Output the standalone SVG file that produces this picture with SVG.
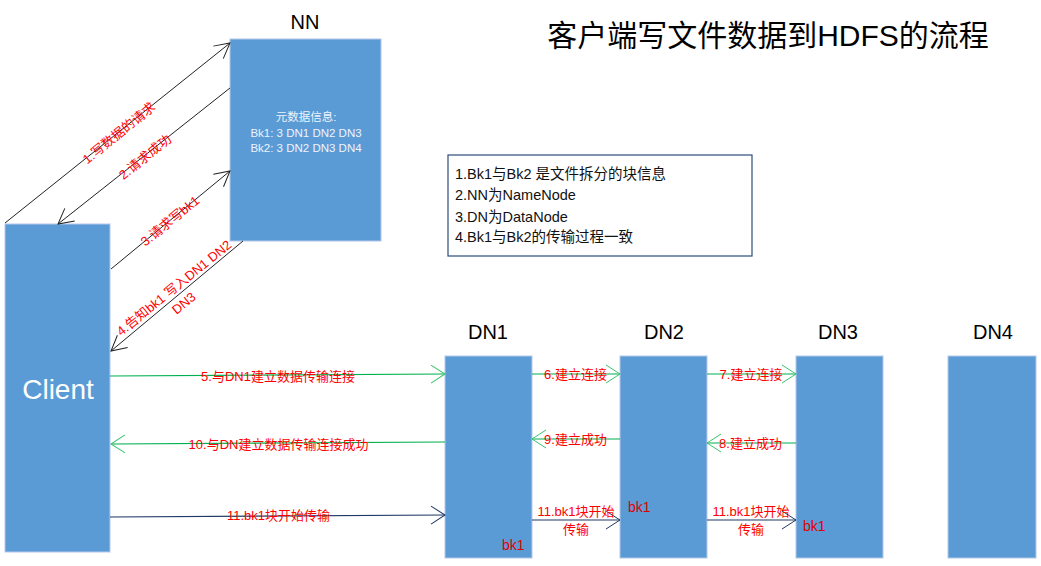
<svg xmlns="http://www.w3.org/2000/svg" width="1041" height="566" viewBox="0 0 1041 566">
<style>
.box{fill:#5b9bd5;stroke:#b4c7e7;stroke-width:1}
.hdr{font-family:"Liberation Sans","Noto Sans CJK SC",sans-serif;font-size:20px;fill:#000;text-anchor:middle}
.lbl{font-family:"Liberation Sans","Noto Sans CJK SC",sans-serif;font-size:13px;fill:#ff0000;text-anchor:middle}
.bk{font-family:"Liberation Sans","Noto Sans CJK SC",sans-serif;font-size:14px;fill:#e00000}
.meta{font-family:"Liberation Sans","Noto Sans CJK SC",sans-serif;font-size:11.5px;fill:#eef3fa;text-anchor:middle}
.note{font-family:"Liberation Sans","Noto Sans CJK SC",sans-serif;font-size:14.5px;fill:#111}
.blk{stroke:#222;stroke-width:1;fill:none;marker-end:url(#ab)}
.grn{stroke:#00b050;stroke-width:1.2;fill:none;marker-end:url(#ag)}
.nav{stroke:#1f3864;stroke-width:1.2;fill:none;marker-end:url(#an)}
</style>
<defs>
<marker id="ab" markerUnits="userSpaceOnUse" markerWidth="20" markerHeight="20" viewBox="-16 -10 20 20" refX="0" refY="0" orient="auto"><path d="M-15,-8 L0,0 L-15,8" fill="none" stroke="#222" stroke-width="1"/></marker>
<marker id="ag" markerUnits="userSpaceOnUse" markerWidth="20" markerHeight="20" viewBox="-16 -10 20 20" refX="0" refY="0" orient="auto"><path d="M-14,-9 L0,0 L-14,9" fill="none" stroke="#3cc36a" stroke-width="1"/></marker>
<marker id="an" markerUnits="userSpaceOnUse" markerWidth="20" markerHeight="20" viewBox="-16 -10 20 20" refX="0" refY="0" orient="auto"><path d="M-14,-9 L0,0 L-14,9" fill="none" stroke="#1f3864" stroke-width="1"/></marker>
</defs>
<rect width="1041" height="566" fill="#fff"/>
<text x="768" y="46" font-family="Liberation Sans,Noto Sans CJK SC,sans-serif" font-size="30" text-anchor="middle" fill="#000">客户端写文件数据到HDFS的流程</text>

<g id="NN">
<rect class="box" x="230" y="39" width="151" height="202"/>
<text class="hdr" x="305" y="29">NN</text>
<text class="meta" x="306" y="121">元数据信息:</text>
<text class="meta" x="306" y="137">Bk1: 3 DN1 DN2 DN3</text>
<text class="meta" x="306" y="152">Bk2: 3 DN2 DN3 DN4</text>
</g>
<g id="Client">
<rect class="box" x="5" y="224" width="105" height="328"/>
<text x="58" y="399" font-family="Liberation Sans,sans-serif" font-size="28" fill="#fff" text-anchor="middle">Client</text>
</g>
<g id="DN1">
<rect class="box" x="445" y="356" width="87" height="202"/>
<text class="hdr" x="488" y="339">DN1</text>
<text class="bk" x="502" y="550">bk1</text>
</g>
<g id="DN2">
<rect class="box" x="620" y="356" width="87" height="202"/>
<text class="hdr" x="664" y="339">DN2</text>
<text class="bk" x="628" y="512">bk1</text>
</g>
<g id="DN3">
<rect class="box" x="796" y="356" width="87" height="202"/>
<text class="hdr" x="838" y="339">DN3</text>
<text class="bk" x="803" y="531">bk1</text>
</g>
<g id="DN4">
<rect class="box" x="948" y="356" width="88" height="202"/>
<text class="hdr" x="993" y="339">DN4</text>
</g>
<g id="Note">
<rect x="448" y="155" width="304" height="101" fill="#fff" stroke="#2f4b7c" stroke-width="1.2"/>
<text class="note" x="455" y="179">1.Bk1与Bk2 是文件拆分的块信息</text>
<text class="note" x="455" y="200">2.NN为NameNode</text>
<text class="note" x="455" y="221.5">3.DN为DataNode</text>
<text class="note" x="455" y="242">4.Bk1与Bk2的传输过程一致</text>
</g>

<g id="connectors">
<path class="blk" d="M5,223 L230,43"/>
<path class="blk" d="M230,88 L58,224"/>
<path class="blk" d="M111,269 L230,171"/>
<path class="blk" d="M243,241 L111,351"/>
<path class="grn" d="M110,376 L445,374"/>
<path class="grn" d="M445,442 L111,444"/>
<path class="nav" d="M110,517 L445,515"/>
<path class="grn" d="M532,374 L620,374"/>
<path class="grn" d="M707,374 L796,374"/>
<path class="grn" d="M620,439 L532,439"/>
<path class="grn" d="M796,443 L707,443"/>
<path class="nav" d="M532,520 L620,520"/>
<path class="nav" d="M707,520 L796,520"/>

<text class="lbl" transform="translate(119,133) rotate(-39)" y="4.5">1.写数据的请求</text>
<text class="lbl" transform="translate(145,157) rotate(-39)" y="4.5">2.请求成功</text>
<text class="lbl" transform="translate(170,221) rotate(-39)" y="4.5">3.请求写bk1</text>
<g transform="translate(174,288) rotate(-39)">
<text class="lbl" y="4.5">4.告知bk1 写入DN1 DN2</text>
<text class="lbl" x="-2" y="22.5">DN3</text>
</g>
<text class="lbl" x="278" y="380.5">5.与DN1建立数据传输连接</text>
<text class="lbl" x="278.5" y="449">10.与DN建立数据传输连接成功</text>
<text class="lbl" x="278.5" y="520">11.bk1块开始传输</text>
<text class="lbl" x="575.5" y="379">6.建立连接</text>
<text class="lbl" x="751" y="379">7.建立连接</text>
<text class="lbl" x="575.5" y="443.5">9.建立成功</text>
<text class="lbl" x="750.5" y="448">8.建立成功</text>
<text class="lbl" x="576" y="516">11.bk1块开始</text>
<text class="lbl" x="576" y="533.5">传输</text>
<text class="lbl" x="751" y="516">11.bk1块开始</text>
<text class="lbl" x="751" y="533.5">传输</text>
</g>
</svg>
